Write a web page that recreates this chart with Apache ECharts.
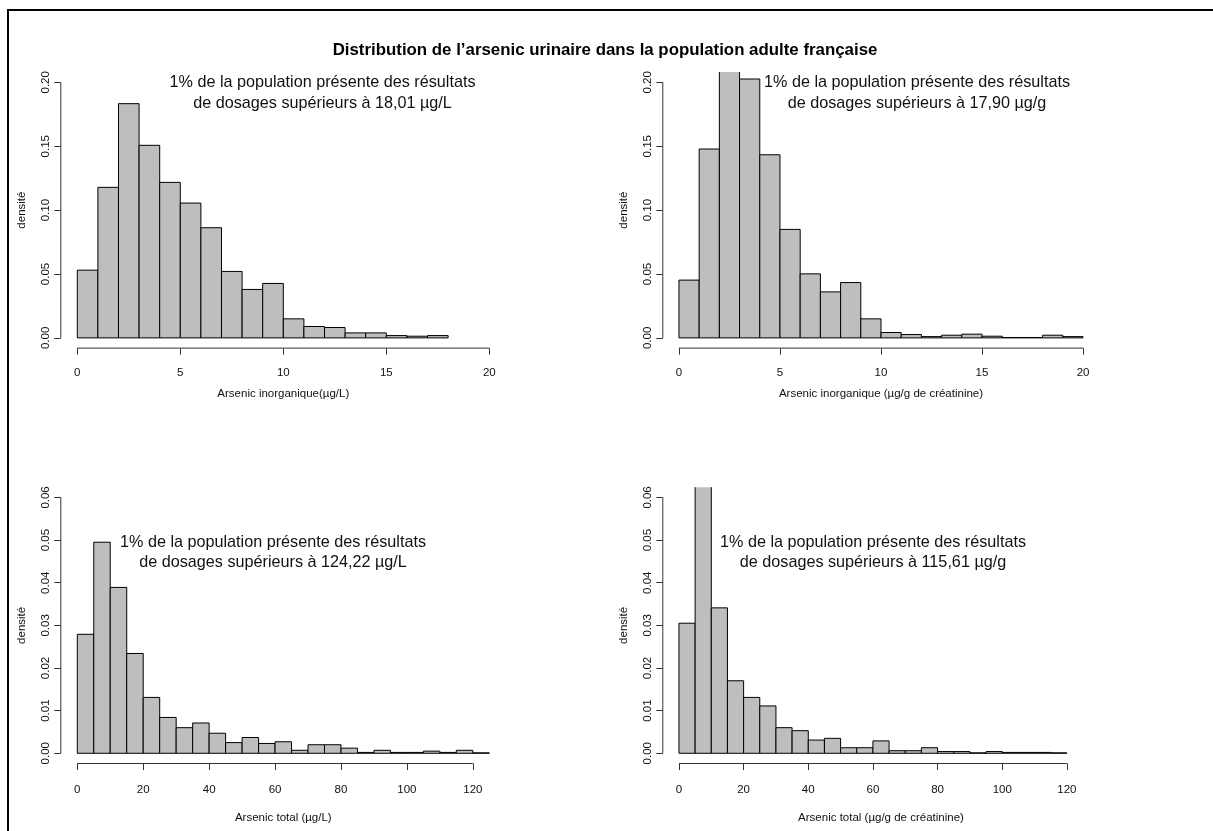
<!DOCTYPE html>
<html><head><meta charset="utf-8">
<script src="https://cdn.jsdelivr.net/npm/echarts@6/dist/echarts.min.js"></script>
<style>html,body{margin:0;padding:0;background:#fff}#c{width:1213px;height:831px}</style>
</head><body><div id="c"></div>
<script>
// ---- data (densities) ----
const inorgL = [0.0530,0.1178,0.1833,0.1507,0.1217,0.1055,0.0862,0.0520,0.0379,0.0426,0.0149,0.0089,0.0081,0.0039,0.0039,0.0018,0.0013,0.0018];
const inorgCreat = [0.0452,0.1478,0.2250,0.2026,0.1433,0.0849,0.0501,0.0360,0.0433,0.0149,0.0042,0.0026,0.0010,0.0021,0.0029,0.0013,0.0003,0.0003,0.0021,0.0010];
const totalL = [0.0279,0.0495,0.0389,0.0234,0.0131,0.0084,0.0060,0.0071,0.0047,0.0025,0.0037,0.0023,0.0027,0.0007,0.0020,0.0020,0.0012,0.0002,0.0007,0.0002,0.0002,0.0005,0.0002,0.0007,0.0001];
const totalCreat = [0.0305,0.0700,0.0341,0.0170,0.0131,0.0111,0.0060,0.0053,0.0031,0.0035,0.0013,0.0013,0.0029,0.0006,0.0006,0.0013,0.0004,0.0004,0.0001,0.0004,0.0002,0.0002,0.0002,0.0001];
const binWidthInorg = 1;
const binWidthTotal = 5;
const xTicksInorg = [0,5,10,15,20];
const xTicksTotal = [0,20,40,60,80,100,120];
const yTicksInorg = [0,0.05,0.10,0.15,0.20];
const yTicksTotal = [0,0.01,0.02,0.03,0.04,0.05,0.06];
const xlimInorg = [0,20];
const xlimTotal = [0,125];
const titleText = "Distribution de l\u2019arsenic urinaire dans la population adulte fran\u00e7aise";
const yName = "densit\u00e9";
const xNames = ["Arsenic inorganique(\u00b5g/L)","Arsenic inorganique (\u00b5g/g de cr\u00e9atinine)","Arsenic total (\u00b5g/L)","Arsenic total (\u00b5g/g de cr\u00e9atinine)"];
const notes = [
  "1% de la population pr\u00e9sente des r\u00e9sultats\nde dosages sup\u00e9rieurs \u00e0 18,01 \u00b5g/L",
  "1% de la population pr\u00e9sente des r\u00e9sultats\nde dosages sup\u00e9rieurs \u00e0 17,90 \u00b5g/g",
  "1% de la population pr\u00e9sente des r\u00e9sultats\nde dosages sup\u00e9rieurs \u00e0 124,22 \u00b5g/L",
  "1% de la population pr\u00e9sente des r\u00e9sultats\nde dosages sup\u00e9rieurs \u00e0 115,61 \u00b5g/g"
];

// ---- layout ----
const FONT = "'Liberation Sans', Arial, Helvetica, sans-serif";
const AX = '#333';
const panels = [
  {vals: inorgL, w: binWidthInorg, xt: xTicksInorg, yt: yTicksInorg, xlim: xlimInorg, grid:{left:60.8, top:72.1, width:445, height:276}, xGap:19, xNameGap:40, note:[322.5, 93]},
  {vals: inorgCreat, w: binWidthInorg, xt: xTicksInorg, yt: yTicksInorg, xlim: xlimInorg, grid:{left:662.8, top:72.1, width:436.4, height:276}, xGap:19, xNameGap:40, note:[917, 93]},
  {vals: totalL, w: binWidthTotal, xt: xTicksTotal, yt: yTicksTotal, xlim: xlimTotal, grid:{left:60.8, top:487.2, width:445, height:276.3}, xGap:20.5, xNameGap:48, note:[273, 552.5]},
  {vals: totalCreat, w: binWidthTotal, xt: xTicksTotal, yt: yTicksTotal, xlim: xlimTotal, grid:{left:662.8, top:487.2, width:436.4, height:276.3}, xGap:20.5, xNameGap:48, note:[873, 552.5]}
];

function renderBar(params, api){
  const x0 = api.value(0), x1 = api.value(1), v = api.value(2);
  const p0 = api.coord([x0, v]);
  const p1 = api.coord([x1, 0]);
  const cs = params.coordSys;
  const full = {x:p0[0], y:p0[1], width:p1[0]-p0[0], height:p1[1]-p0[1]};
  const r = echarts.graphic.clipRectByRect(full, {x:cs.x, y:cs.y, width:cs.width, height:cs.height});
  if (!r) return null;
  const clippedTop = r.y > full.y + 0.5;
  if (!clippedTop) {
    return {type:'rect', shape:r, style:{fill:'#bebebe', stroke:'#000', lineWidth:1}};
  }
  return {type:'group', children:[
    {type:'rect', shape:r, style:{fill:'#bebebe', stroke:null}},
    {type:'polyline', shape:{points:[[r.x, r.y],[r.x, r.y+r.height],[r.x+r.width, r.y+r.height],[r.x+r.width, r.y]]}, style:{stroke:'#000', lineWidth:1, fill:null}}
  ]};
}

const grids = [], xAxes = [], yAxes = [], series = [], graphics = [];
panels.forEach((p, i) => {
  const xpad = 0.04*(p.xlim[1]-p.xlim[0]);
  const ypad = 0.04*(p.yt[p.yt.length-1]-p.yt[0]);
  const xmin = p.xlim[0]-xpad, xmax = p.xlim[1]+xpad;
  const ymin = p.yt[0]-ypad, ymax = p.yt[p.yt.length-1]+ypad;
  grids.push(Object.assign({containLabel:false}, p.grid));
  xAxes.push({
    type:'value', gridIndex:i, min:xmin, max:xmax, position:'bottom',
    axisLine:{show:false, onZero:false}, splitLine:{show:false},
    axisTick:{show:true, length:6.5, lineStyle:{color:AX, width:1}, customValues:p.xt},
    axisLabel:{show:true, customValues:p.xt, margin:p.xGap, color:'#111', fontSize:11.5, fontFamily:FONT, formatter:v=>String(v)},
    name:xNames[i], nameLocation:'middle', nameGap:p.xNameGap,
    nameTextStyle:{color:'#111', fontSize:11.5, fontFamily:FONT}
  });
  yAxes.push({
    type:'value', gridIndex:i, min:ymin, max:ymax, position:'left',
    axisLine:{show:false, onZero:false}, splitLine:{show:false},
    axisTick:{show:true, length:6.5, lineStyle:{color:AX, width:1}, customValues:p.yt},
    axisLabel:{show:true, customValues:p.yt, rotate:90, margin:9, color:'#111', fontSize:11.5, fontFamily:FONT, formatter:v=>v.toFixed(2)},
    name:yName, nameLocation:'middle', nameGap:33,
    nameTextStyle:{color:'#111', fontSize:11.5, fontFamily:FONT}
  });
  series.push({
    type:'custom', xAxisIndex:i, yAxisIndex:i, renderItem:renderBar, silent:true,
    encode:{x:[0,1], y:2},
    data:p.vals.map((v,k)=>[p.xlim[0]+k*p.w, p.xlim[0]+(k+1)*p.w, v])
  });
  series.push({
    type:'line', xAxisIndex:i, yAxisIndex:i, symbol:'none', clip:false, silent:true,
    lineStyle:{color:AX, width:1},
    data:[[p.xt[0], ymin],[p.xt[p.xt.length-1], ymin]]
  });
  series.push({
    type:'line', xAxisIndex:i, yAxisIndex:i, symbol:'none', clip:false, silent:true,
    lineStyle:{color:AX, width:1},
    data:[[xmin, p.yt[0]],[xmin, p.yt[p.yt.length-1]]]
  });
  graphics.push({
    type:'text', x:p.note[0], y:p.note[1], z:100,
    style:{text:notes[i], fill:'#111', font:'16.2px ' + FONT, textAlign:'center', textVerticalAlign:'middle', lineHeight:20.5}
  });
});
graphics.push({type:'text', x:605, y:50, z:100,
  style:{text:titleText, fill:'#000', font:'bold 16.85px ' + FONT, textAlign:'center', textVerticalAlign:'middle'}});
graphics.push({type:'rect', shape:{x:8, y:10, width:1300, height:900}, style:{fill:null, stroke:'#000', lineWidth:2}, z:100});

const chart = echarts.init(document.getElementById('c'), null, {renderer:'canvas'});
chart.setOption({
  animation:false,
  backgroundColor:'#fff',
  grid:grids, xAxis:xAxes, yAxis:yAxes, series:series, graphic:graphics
});
</script>
</body></html>
